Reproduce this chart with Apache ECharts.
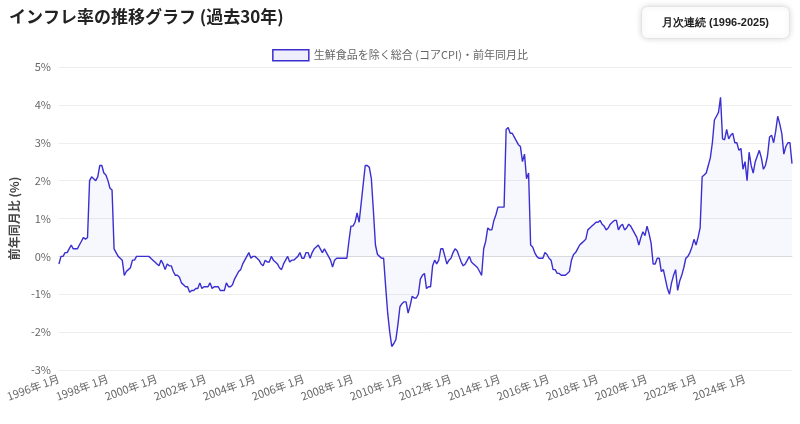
<!DOCTYPE html>
<html><head><meta charset="utf-8">
<script src="https://cdn.jsdelivr.net/npm/echarts@6/dist/echarts.min.js"></script>
<style>html,body{margin:0;padding:0;background:#fff}#c{width:800px;height:424px}</style>
</head><body><div id="c"></div>
<script>
const startYear = 1996;
const months = [];
for (let y = 1996; y <= 2025; y++) for (let m = 1; m <= 12; m++) months.push(y + '年 ' + m + '月');
const coreCPI = [
-0.2,0.0,0.0,0.1,0.1,0.2,0.3,0.2,0.2,0.2,0.3,0.4,
0.5,0.45,0.5,2.0,2.1,2.05,2.0,2.1,2.4,2.4,2.2,2.15,
2.0,1.8,1.75,0.2,0.1,0.0,-0.05,-0.1,-0.5,-0.4,-0.35,-0.3,
-0.1,-0.1,0.0,0.0,0.0,0.0,0.0,0.0,0.0,-0.05,-0.1,-0.15,
-0.2,-0.25,-0.1,-0.2,-0.35,-0.2,-0.25,-0.25,-0.4,-0.5,-0.5,-0.55,
-0.7,-0.75,-0.8,-0.8,-0.95,-0.9,-0.9,-0.85,-0.85,-0.7,-0.85,-0.8,
-0.8,-0.8,-0.7,-0.85,-0.8,-0.8,-0.8,-0.9,-0.9,-0.9,-0.7,-0.8,
-0.8,-0.75,-0.6,-0.5,-0.4,-0.35,-0.2,-0.1,0.0,0.1,-0.05,0.0,
0.0,-0.05,-0.1,-0.2,-0.25,-0.1,-0.15,-0.15,0.0,-0.1,-0.15,-0.2,
-0.3,-0.35,-0.2,-0.1,0.0,-0.15,-0.1,-0.1,-0.05,0.0,0.1,-0.05,
-0.05,0.1,0.1,-0.05,0.1,0.2,0.25,0.3,0.2,0.1,0.2,0.1,
0.0,-0.1,-0.28,-0.1,-0.05,-0.05,-0.05,-0.05,-0.05,-0.05,0.4,0.8,
0.8,0.9,1.15,0.9,1.4,1.9,2.4,2.4,2.35,2.05,1.2,0.3,
0.05,0.0,-0.05,-0.05,-0.8,-1.5,-2.0,-2.38,-2.3,-2.2,-1.8,-1.33,
-1.25,-1.2,-1.2,-1.5,-1.3,-1.05,-1.1,-1.1,-1.0,-0.6,-0.5,-0.45,
-0.85,-0.8,-0.8,-0.25,-0.1,-0.2,-0.1,0.2,0.2,0.0,-0.2,-0.1,
-0.05,0.1,0.2,0.15,0.0,-0.15,-0.25,-0.2,-0.1,0.0,-0.15,-0.2,
-0.25,-0.3,-0.4,-0.5,0.2,0.4,0.75,0.7,0.7,0.95,1.1,1.3,
1.3,1.3,1.3,3.35,3.4,3.25,3.25,3.15,3.05,2.95,2.9,2.5,
2.7,2.05,2.2,0.3,0.25,0.1,0.0,-0.05,-0.05,-0.05,0.1,0.05,
-0.05,-0.1,-0.35,-0.35,-0.45,-0.45,-0.5,-0.5,-0.5,-0.45,-0.4,-0.1,
0.05,0.1,0.2,0.3,0.35,0.4,0.45,0.7,0.75,0.8,0.85,0.9,
0.9,0.95,0.85,0.8,0.7,0.75,0.85,0.9,0.95,0.95,0.7,0.8,
0.85,0.7,0.75,0.85,0.8,0.7,0.6,0.5,0.3,0.5,0.65,0.55,
0.8,0.6,0.35,-0.2,-0.2,-0.05,-0.05,-0.4,-0.35,-0.6,-0.85,-1.0,
-0.7,-0.5,-0.35,-0.9,-0.65,-0.5,-0.3,-0.05,0.0,0.1,0.25,0.45,
0.3,0.5,0.75,2.1,2.15,2.2,2.4,2.6,3.0,3.6,3.7,3.8,
4.2,3.1,3.08,3.35,3.1,3.2,3.25,3.0,3.0,2.8,2.85,2.3,
2.5,2.0,2.75,2.4,2.2,2.5,2.65,2.8,2.6,2.3,2.4,2.65,
3.15,3.2,3.0,3.3,3.7,3.5,3.25,2.7,2.9,3.0,3.0,2.45
];
const seriesName = '生鮮食品を除く総合 (コアCPI)・前年同月比';
const chart = echarts.init(document.getElementById('c'));
chart.setOption({
  animation:false,
  textStyle:{fontFamily:'"Noto Sans CJK JP","Noto Sans",sans-serif'},
  title:{text:'インフレ率の推移グラフ (過去30年)',left:4,top:3,textStyle:{fontSize:17,fontWeight:'bold',color:'#222'}},
  graphic:[{type:'group',right:10,top:6,children:[
    {type:'rect',shape:{x:0,y:0,width:148,height:32,r:6},style:{fill:'#fff',stroke:'#e4e4e4',shadowBlur:6,shadowColor:'rgba(0,0,0,0.15)'}},
    {type:'text',style:{x:74,y:16,text:'月次連続 (1996-2025)',align:'center',verticalAlign:'middle',fontSize:11,fontWeight:'bold',fill:'#222',font:'bold 11px "Noto Sans CJK JP"'}}
  ]}],
  legend:{top:44,left:'center',itemWidth:36,itemHeight:11,textStyle:{fontSize:11,color:'#666'},
    data:[{name:seriesName,icon:'rect',itemStyle:{color:'rgba(90,90,240,0.1)',borderColor:'#3b2fd0',borderWidth:1.5}}]},
  grid:{left:58,right:8,top:67,bottom:54},
  xAxis:{type:'category',data:months,boundaryGap:false,
    axisLine:{lineStyle:{color:'#ddd'}},axisTick:{show:false},
    axisLabel:{interval:function(i){return i%24===0;},rotate:20,color:'#666',fontSize:11,hideOverlap:false}},
  yAxis:{type:'value',min:-3,max:5,interval:1,name:'前年同月比 (%)',nameLocation:'middle',nameGap:38,
    nameTextStyle:{fontSize:12,fontWeight:'bold',color:'#444'},
    axisLabel:{formatter:'{value}%',color:'#666',fontSize:11},
    splitLine:{lineStyle:{color:'#eee'}}},
  series:[{name:seriesName,type:'line',data:coreCPI,symbol:'none',
    lineStyle:{color:'#3b2fd0',width:1.4},itemStyle:{color:'#3b2fd0'},
    areaStyle:{color:'rgba(90,90,240,0.07)'}}]
});
</script></body></html>
